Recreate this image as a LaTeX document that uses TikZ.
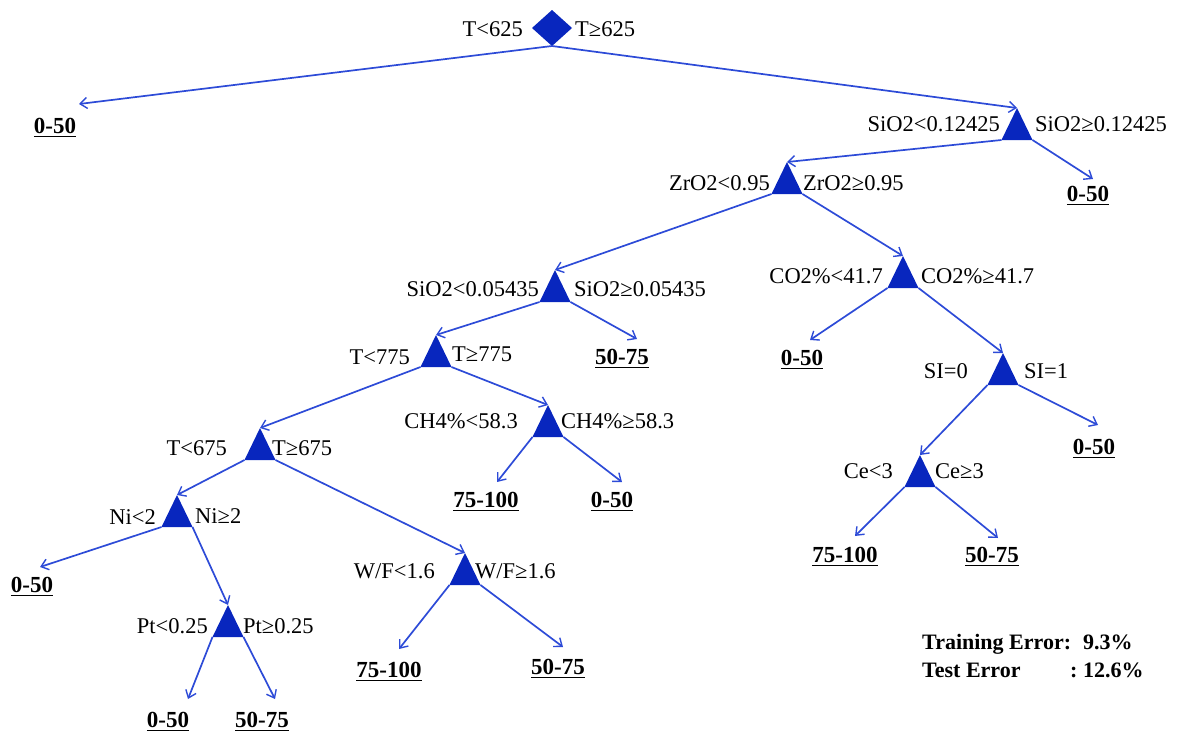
\documentclass[tikz,border=0pt]{standalone}
\usepackage{fontspec}
\setmainfont{Liberation Serif}
\usetikzlibrary{arrows.meta,calc}
\definecolor{trifill}{RGB}{8,38,190}
\definecolor{connblue}{RGB}{45,75,215}
\tikzset{
  conn/.style={draw=connblue, line width=1.7pt, -{Straight Barb[length=7pt,width=11pt,line width=1.4pt]}},
  lbl/.style={font=\fontsize{22.5}{27}\selectfont, inner sep=0pt, text=black},
  leaf/.style={font=\fontsize{23}{27}\selectfont\bfseries, inner sep=0pt, anchor=base, text=black},
  err/.style={font=\fontsize{22}{25}\selectfont\bfseries, inner sep=0pt, anchor=base west, text=black},
}
\newcommand\mytri[3]{%
  \coordinate (#1) at (#2,#3);
  \coordinate (#1l) at (#2-15.5,#3+32);
  \coordinate (#1r) at (#2+15.5,#3+32);
  \fill[trifill] (#1) -- (#1l) -- (#1r) -- cycle;}
\newcommand\uln[1]{\leavevmode\vtop{\hbox{#1}\kern2.5pt\hrule height 1.6pt}}
\begin{document}
\begin{tikzpicture}[x=1pt,y=-1pt]
\useasboundingbox (0,0) rectangle (1187,731);
% root diamond
\coordinate (rootc) at (552,28);
\fill[trifill] (532,28) -- (552,10) -- (572,28) -- (552,46) -- cycle;
\coordinate (root) at (552,46);
\node[lbl, anchor=base east] (rootL) at (523,36) {T<625};
\node[lbl, anchor=base west] (rootR) at (575,36) {T≥625};
% triangles
\mytri{sa}{1017}{108}
\node[lbl, anchor=base east] (saL) at (1000,131) {SiO2<0.12425};
\node[lbl, anchor=base west] (saR) at (1035,131) {SiO2≥0.12425};
\mytri{zr}{787}{162}
\node[lbl, anchor=base east] (zrL) at (770,190) {ZrO2<0.95};
\node[lbl, anchor=base west] (zrR) at (803,190) {ZrO2≥0.95};
\mytri{sb}{555}{270}
\node[lbl, anchor=base east] (sbL) at (539,296) {SiO2<0.05435};
\node[lbl, anchor=base west] (sbR) at (574,296) {SiO2≥0.05435};
\mytri{ts}{436}{335}
\node[lbl, anchor=base east] (tsL) at (410,364) {T<775};
\node[lbl, anchor=base west] (tsR) at (452,361) {T≥775};
\mytri{ch}{548}{405}
\node[lbl, anchor=base east] (chL) at (518,428) {CH4\%<58.3};
\node[lbl, anchor=base west] (chR) at (561,428) {CH4\%≥58.3};
\mytri{tx}{260}{428}
\node[lbl, anchor=base east] (txL) at (227,455) {T<675};
\node[lbl, anchor=base west] (txR) at (272,455) {T≥675};
\mytri{co}{903}{256}
\node[lbl, anchor=base east] (coL) at (883,283) {CO2\%<41.7};
\node[lbl, anchor=base west] (coR) at (921,283) {CO2\%≥41.7};
\mytri{si}{1003}{353}
\node[lbl, anchor=base east] (siL) at (968,378) {SI=0};
\node[lbl, anchor=base west] (siR) at (1024,378) {SI=1};
\mytri{ce}{920}{455}
\node[lbl, anchor=base east] (ceL) at (893,478) {Ce<3};
\node[lbl, anchor=base west] (ceR) at (935,478) {Ce≥3};
\mytri{ni}{177}{495}
\node[lbl, anchor=base east] (niL) at (156,524) {Ni<2};
\node[lbl, anchor=base west] (niR) at (195,523) {Ni≥2};
\mytri{pt}{228}{605}
\node[lbl, anchor=base east] (ptL) at (208,633) {Pt<0.25};
\node[lbl, anchor=base west] (ptR) at (243,633) {Pt≥0.25};
\mytri{wf}{465}{553}
\node[lbl, anchor=base east] (wfL) at (435,578) {W/F<1.6};
\node[lbl, anchor=base west] (wfR) at (475,578) {W/F≥1.6};
% leaves
\node[leaf] (l1) at (55,133) {\uln{0-50}};        \coordinate (l1t) at (79,104);
\node[leaf] (l2) at (1088,201) {\uln{0-50}};      \coordinate (l2t) at (1093,179);
\node[leaf] (l3) at (622,364) {\uln{50-75}};      \coordinate (l3t) at (637,339);
\node[leaf] (l4) at (802,365) {\uln{0-50}};       \coordinate (l4t) at (810,340);
\node[leaf] (l5) at (1094,454) {\uln{0-50}};      \coordinate (l5t) at (1098,425);
\node[leaf] (l6) at (486,507) {\uln{75-100}};     \coordinate (l6t) at (497,482);
\node[leaf] (l7) at (612,507) {\uln{0-50}};       \coordinate (l7t) at (622,482);
\node[leaf] (l8) at (845,562) {\uln{75-100}};     \coordinate (l8t) at (855,536);
\node[leaf] (l9) at (992,562) {\uln{50-75}};      \coordinate (l9t) at (998,538);
\node[leaf] (l10) at (32,592) {\uln{0-50}};       \coordinate (l10t) at (40,567);
\node[leaf] (l11) at (168,727) {\uln{0-50}};      \coordinate (l11t) at (188,699);
\node[leaf] (l12) at (262,727) {\uln{50-75}};     \coordinate (l12t) at (275,699);
\node[leaf] (l13) at (389,677) {\uln{75-100}};    \coordinate (l13t) at (399,649);
\node[leaf] (l14) at (558,674) {\uln{50-75}};     \coordinate (l14t) at (563,647);
% connectors
\draw[conn] (root) -- (l1t);
\draw[conn] (root) -- (sa);
\draw[conn] (sal) -- (zr);
\draw[conn] (sar) -- (l2t);
\draw[conn] (zrl) -- (sb);
\draw[conn] (zrr) -- (co);
\draw[conn] (sbl) -- (ts);
\draw[conn] (sbr) -- (l3t);
\draw[conn] (tsl) -- (tx);
\draw[conn] (tsr) -- (ch);
\draw[conn] (chl) -- (l6t);
\draw[conn] (chr) -- (l7t);
\draw[conn] (txl) -- (ni);
\draw[conn] (txr) -- (wf);
\draw[conn] (nil) -- (l10t);
\draw[conn] (nir) -- (pt);
\draw[conn] (ptl) -- (l11t);
\draw[conn] (ptr) -- (l12t);
\draw[conn] (wfl) -- (l13t);
\draw[conn] (wfr) -- (l14t);
\draw[conn] (col) -- (l4t);
\draw[conn] (cor) -- (si);
\draw[conn] (sil) -- (ce);
\draw[conn] (sir) -- (l5t);
\draw[conn] (cel) -- (l8t);
\draw[conn] (cer) -- (l9t);
% error box
\node[err] (e1) at (922,649) {Training Error:};
\node[err] (e2) at (1083,649) {9.3\%};
\node[err] (e3) at (922,677) {Test Error};
\node[err] (e4) at (1070,677) {:\ 12.6\%};
\end{tikzpicture}
\end{document}
